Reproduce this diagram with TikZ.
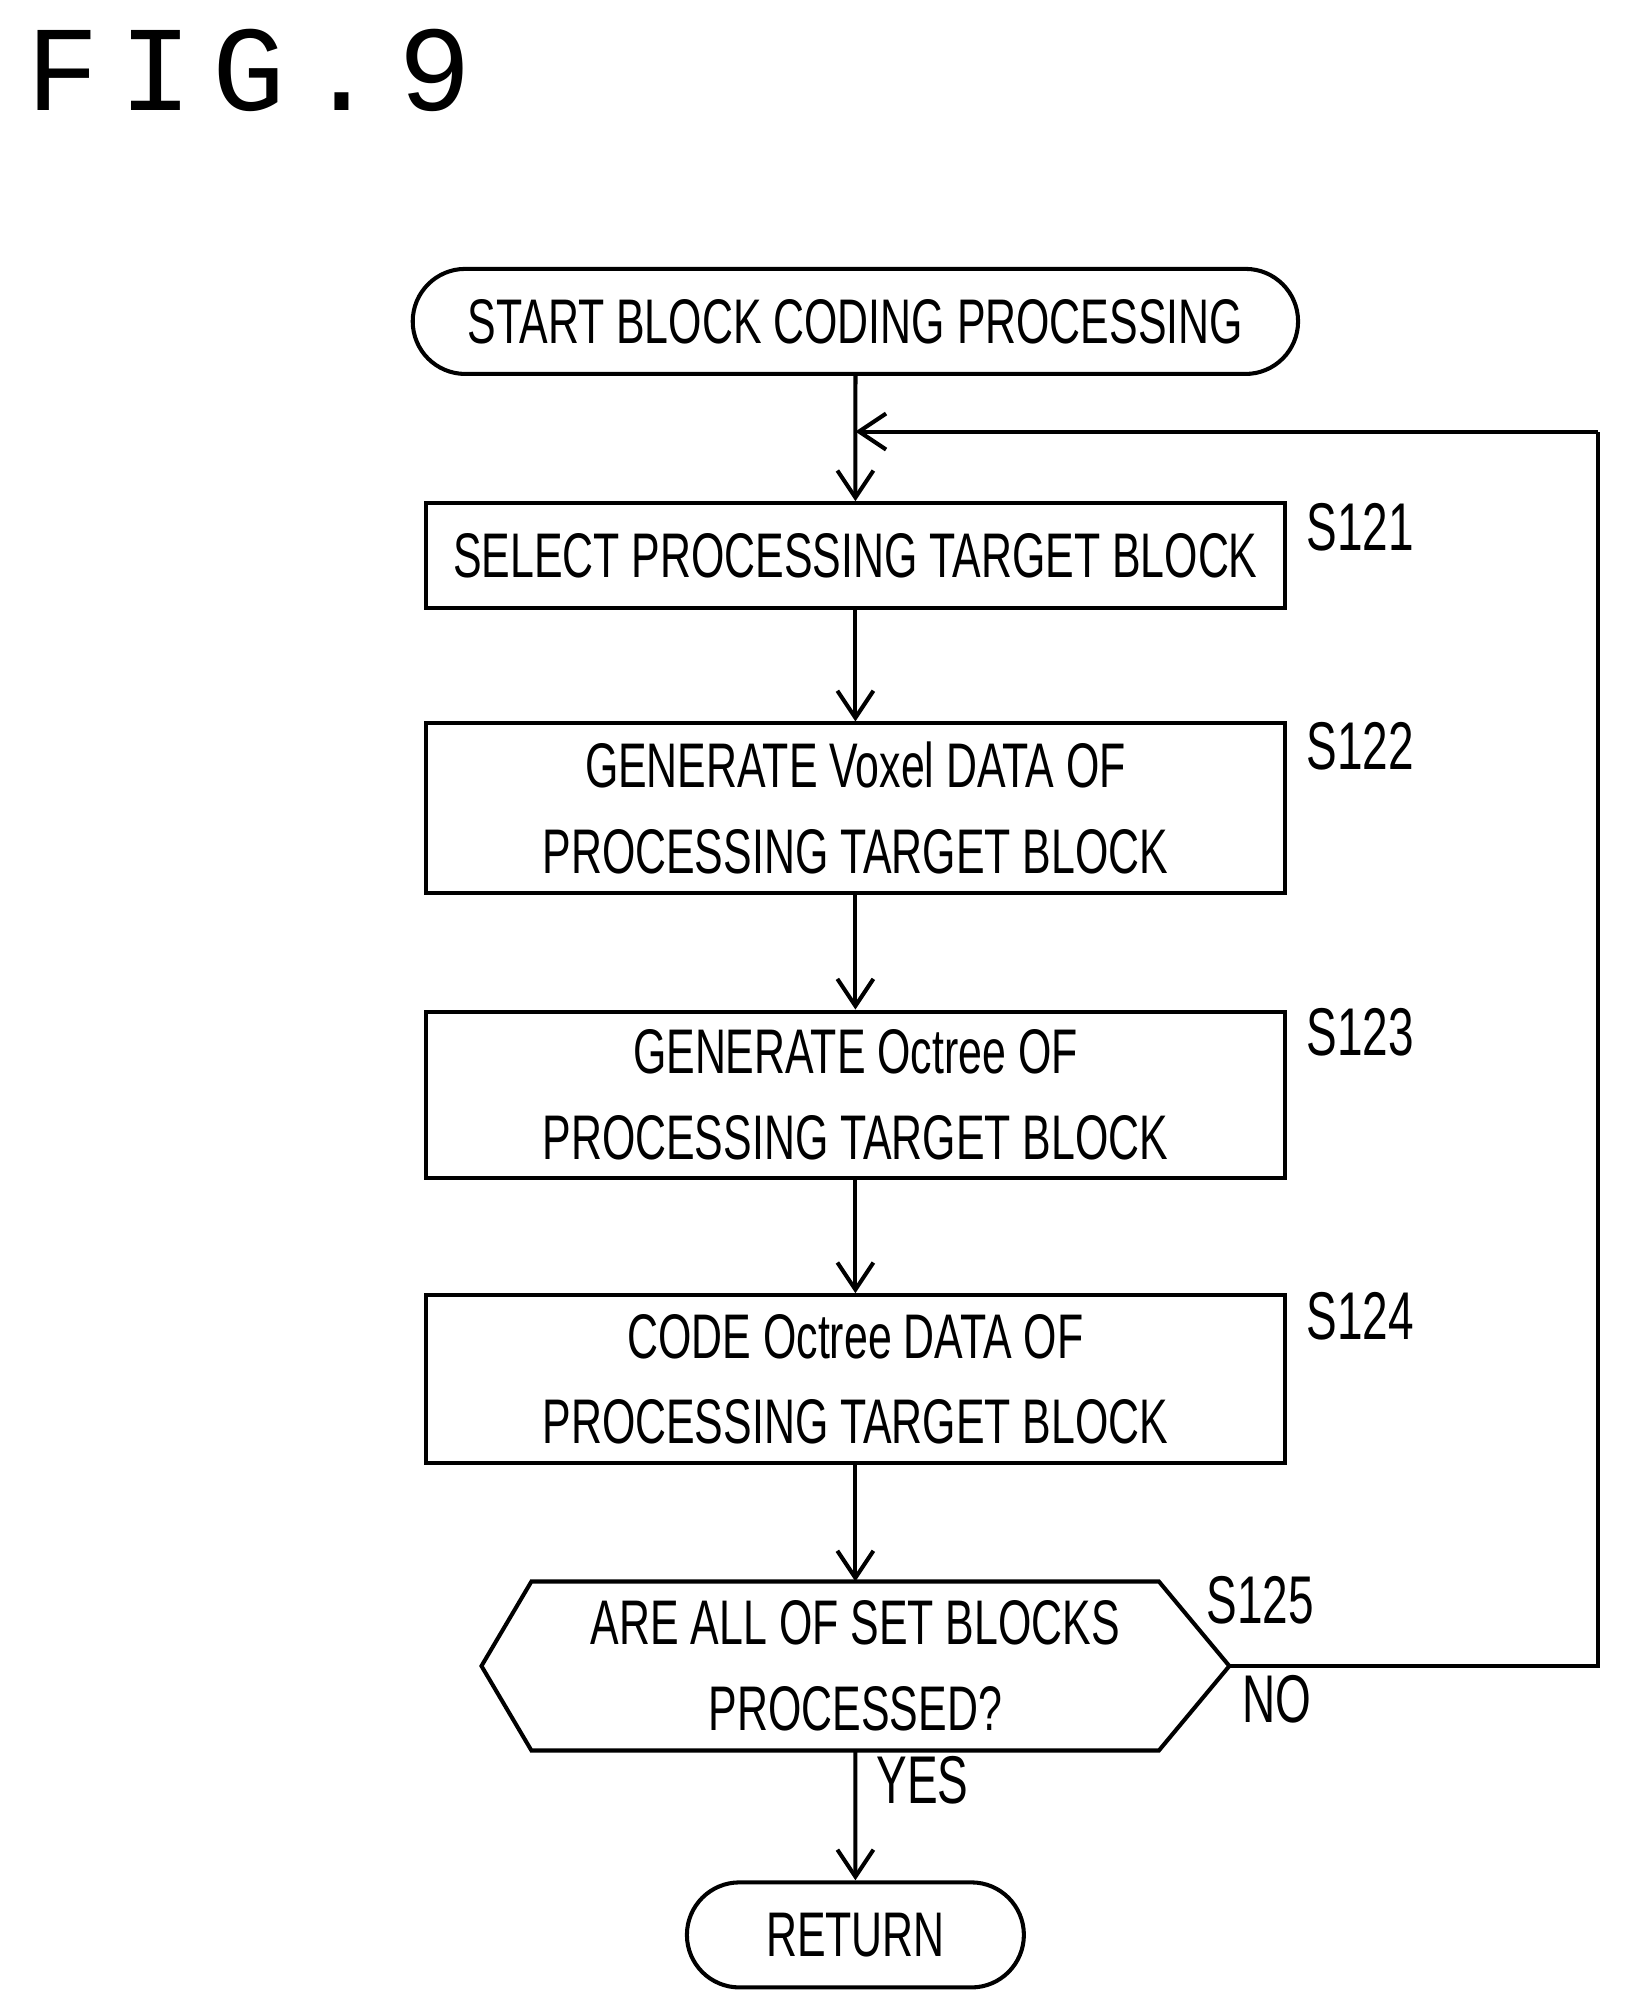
\documentclass[tikz,border=0pt]{standalone}
\usepackage{fontspec}
\setmainfont{Liberation Sans}
\newfontfamily\cond[FakeStretch=0.68]{Liberation Sans}
\newfontfamily\figmono{Liberation Mono}
\usetikzlibrary{arrows.meta,shapes.misc}
\begin{document}
\begin{tikzpicture}[x=0.01cm,y=-0.01cm,
  every node/.style={font=\cond\fontsize{14}{19}\selectfont},
  box/.style={draw,line width=0.9pt,minimum width=670\pgflinewidth/0.9pt*0+6.7cm,inner sep=0pt,align=center},
  term/.style={draw,line width=0.9pt,rounded rectangle,inner sep=0pt,minimum height=0.82cm},
  arr/.style={line width=0.9pt,-{Straight Barb[length=6pt,width=8pt]}},
  ln/.style={line width=0.9pt},
  lab/.style={anchor=west,font=\cond\fontsize{15}{18}\selectfont}]
\useasboundingbox (0,0) rectangle (1270,1572);
\node[anchor=north west,font=\figmono\fontsize{27}{30}\selectfont] (fig) at (8,10) {F\,I\,G\,.\,9};
\node[term,minimum width=6.91cm] (start) at (668,251) {START BLOCK CODING PROCESSING};
\node[box,minimum height=0.82cm] (s1) at (668,434) {SELECT PROCESSING TARGET BLOCK};
\node[box,minimum height=1.32cm] (s2) at (668,631) {GENERATE Voxel DATA OF\\PROCESSING TARGET BLOCK};
\node[box,minimum height=1.30cm] (s3) at (668,855) {GENERATE Octree OF\\PROCESSING TARGET BLOCK};
\node[box,minimum height=1.31cm] (s4) at (668,1077) {CODE Octree DATA OF\\PROCESSING TARGET BLOCK};
\draw[ln] (376,1301) -- (415,1235) -- (905,1235) -- (960,1301) -- (905,1367) -- (415,1367) -- cycle;
\coordinate (hr) at (960,1301);
\node[align=center] (s5) at (668,1301) {ARE ALL OF SET BLOCKS\\PROCESSED?};
\node[term,minimum width=2.63cm] (ret) at (668,1511) {RETURN};
\node[lab] (l1) at (1008,412) {S121};
\node[lab] (l2) at (1008,583) {S122};
\node[lab] (l3) at (1008,806) {S123};
\node[lab] (l4) at (1008,1028) {S124};
\node[lab] (l5) at (930,1250) {S125};
\node[lab] (no) at (958,1327) {NO};
\node[lab] (yes) at (672,1390) {YES};
\coordinate (j) at (668,337);
\coordinate (c1) at (1248,1301);
\coordinate (c2) at (1248,337);
\draw[arr] (start) -- (s1);
\draw[arr] (s1) -- (s2);
\draw[arr] (s2) -- (s3);
\draw[arr] (s3) -- (s4);
\draw[arr] (s4) -- (668,1235);
\draw[arr] (668,1367) -- (ret);
\draw[ln] (hr) -- (c1) -- (c2);
\draw[arr] (c2) -- (j);
\end{tikzpicture}
\end{document}
